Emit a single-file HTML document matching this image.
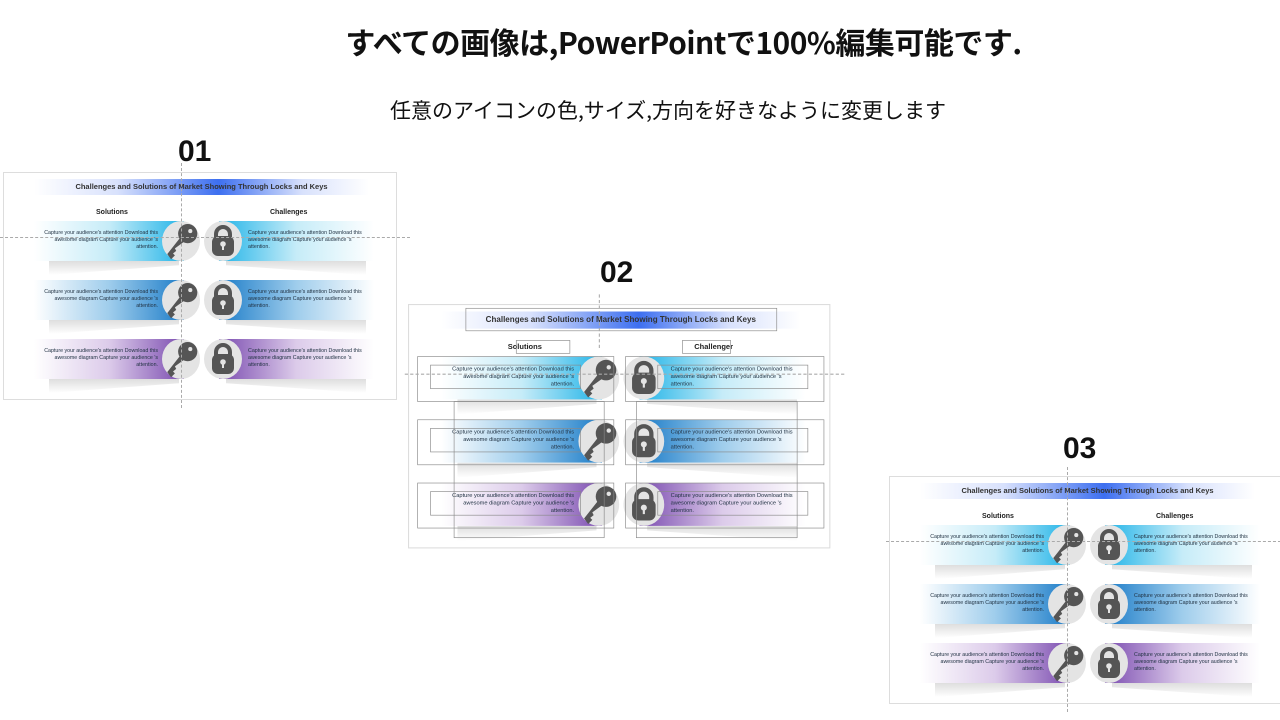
<!DOCTYPE html>
<html><head><meta charset="utf-8"><style>
body{margin:0;width:1280px;height:720px;background:#fff;position:relative;overflow:hidden;font-family:"Liberation Sans","Noto Sans CJK JP",sans-serif}
.abs{position:absolute}
.h1{left:0;width:1367px;text-align:center;top:19px;font-size:30px;font-weight:bold;color:#111;font-family:"Noto Sans CJK JP",sans-serif;letter-spacing:-0.5px}
.h2{left:0;width:1336px;text-align:center;top:95px;font-size:21px;color:#111;font-family:"Noto Sans CJK JP",sans-serif}
.num{font-size:30px;font-weight:bold;color:#111}
.slide{position:absolute;width:392px;height:226px;border:1px solid #ddd;background:#fff;transform-origin:0 0;overflow:visible}
.title{position:absolute;left:30px;width:335px;top:6px;height:16px;text-align:center;font-size:7.5px;font-weight:bold;color:#333;line-height:16px;background:linear-gradient(90deg,rgba(255,255,255,0),rgba(190,205,250,.6) 25%,#3d6ff0 55%,rgba(190,205,250,.6) 80%,rgba(255,255,255,0))}
.sub{position:absolute;top:36px;font-size:7px;font-weight:bold;color:#222}
.bl{position:absolute;left:30px;width:150px;height:40px}
.br{position:absolute;left:215px;width:155px;height:40px}
.sh{position:absolute;height:14px;background:linear-gradient(180deg,#dedede,rgba(255,255,255,0))}
.shl{clip-path:polygon(0 0,100% 0,100% 30%,0 100%)}
.shr{clip-path:polygon(0 0,100% 0,100% 100%,0 30%)}
.circ{position:absolute;width:38px;height:40px;border-radius:50%;background:#e4e4e4}
.t{position:absolute;font-size:5.3px;color:#234;line-height:7px}
.vl{position:absolute;left:177px;top:-10px;height:245px;border-left:1px dashed #aaa}
.hl{position:absolute;left:-4px;width:410px;top:64px;border-top:1px dashed #aaa}
</style></head><body>
<div class="abs h1">すべての画像は,PowerPointで100%編集可能です.</div>
<div class="abs h2">任意のアイコンの色,サイズ,方向を好きなように変更します</div>
<div class="abs num" style="left:178px;top:135px">01</div>
<div class="abs num" style="left:600px;top:256px">02</div>
<div class="abs num" style="left:1063px;top:432px">03</div>

<svg width="0" height="0" style="position:absolute"><defs>
<g id="key" transform="translate(-5,-4) scale(1.28)"><circle cx="24" cy="13" r="7.5" fill="#555"/><path d="M19 15 L8 29 L11 33 L14 30 L12.5 28.5 L15 26.5 L14 24.5 L23 18 Z" fill="#555"/><circle cx="26" cy="11" r="1.6" fill="#e4e4e4"/></g>
<g id="lock"><path d="M12 17 v-4 a7 7 0 0 1 14 0 v4" stroke="#555" stroke-width="4" fill="none"/><rect x="8" y="15" width="22" height="20" rx="6" fill="#555"/><circle cx="19" cy="23" r="2.8" fill="#e4e4e4"/><rect x="18" y="23" width="2" height="6" fill="#e4e4e4"/></g>
</defs></svg>

<div class="slide" style="left:3px;top:172px">
<div class="title">Challenges and Solutions of Market Showing Through Locks and Keys</div>
<div class="sub" style="left:92px">Solutions</div><div class="sub" style="left:266px">Challenges</div>
<div class="bl" style="top:48px;background:linear-gradient(90deg,rgba(255,255,255,0),#c6ecf8 50%,#22b4e8)"></div>
<div class="br" style="top:48px;background:linear-gradient(90deg,#22b4e8,#c6ecf8 50%,rgba(255,255,255,0))"></div>
<div class="bl" style="top:107px;background:linear-gradient(90deg,rgba(255,255,255,0),#9fcdec 50%,#1c7cc8)"></div>
<div class="br" style="top:107px;background:linear-gradient(90deg,#1c7cc8,#9fcdec 50%,rgba(255,255,255,0))"></div>
<div class="bl" style="top:166px;background:linear-gradient(90deg,rgba(255,255,255,0),#dccbea 50%,#7b4cb0)"></div>
<div class="br" style="top:166px;background:linear-gradient(90deg,#7b4cb0,#dccbea 50%,rgba(255,255,255,0))"></div>
<div class="sh shl" style="left:45px;width:130px;top:88px"></div><div class="sh shr" style="left:222px;width:140px;top:88px"></div>
<div class="sh shl" style="left:45px;width:130px;top:147px"></div><div class="sh shr" style="left:222px;width:140px;top:147px"></div>
<div class="sh shl" style="left:45px;width:130px;top:206px"></div><div class="sh shr" style="left:222px;width:140px;top:206px"></div>
<div class="t" style="left:34px;width:120px;top:57px;text-align:right">Capture your audience's attention Download this awesome diagram Capture your audience 's attention.</div>
<div class="t" style="left:244px;width:120px;top:57px">Capture your audience's attention Download this awesome diagram Capture your audience 's attention.</div>
<div class="t" style="left:34px;width:120px;top:116px;text-align:right">Capture your audience's attention Download this awesome diagram Capture your audience 's attention.</div>
<div class="t" style="left:244px;width:120px;top:116px">Capture your audience's attention Download this awesome diagram Capture your audience 's attention.</div>
<div class="t" style="left:34px;width:120px;top:175px;text-align:right">Capture your audience's attention Download this awesome diagram Capture your audience 's attention.</div>
<div class="t" style="left:244px;width:120px;top:175px">Capture your audience's attention Download this awesome diagram Capture your audience 's attention.</div>
<div class="circ" style="left:158px;top:48px"><svg width="38" height="40"><use href="#key"/></svg></div>
<div class="circ" style="left:200px;top:48px"><svg width="38" height="40"><use href="#lock"/></svg></div>
<div class="circ" style="left:158px;top:107px"><svg width="38" height="40"><use href="#key"/></svg></div>
<div class="circ" style="left:200px;top:107px"><svg width="38" height="40"><use href="#lock"/></svg></div>
<div class="circ" style="left:158px;top:166px"><svg width="38" height="40"><use href="#key"/></svg></div>
<div class="circ" style="left:200px;top:166px"><svg width="38" height="40"><use href="#lock"/></svg></div>
<div class="vl"></div><div class="hl"></div>
</div>

<div class="slide" style="left:408px;top:304px;transform:scale(1.072)">
<div class="title">Challenges and Solutions of Market Showing Through Locks and Keys</div>
<div class="sub" style="left:92px">Solutions</div><div class="sub" style="left:266px">Challenger</div>
<div class="bl" style="top:48px;background:linear-gradient(90deg,rgba(255,255,255,0),#c6ecf8 50%,#22b4e8)"></div>
<div class="br" style="top:48px;background:linear-gradient(90deg,#22b4e8,#c6ecf8 50%,rgba(255,255,255,0))"></div>
<div class="bl" style="top:107px;background:linear-gradient(90deg,rgba(255,255,255,0),#9fcdec 50%,#1c7cc8)"></div>
<div class="br" style="top:107px;background:linear-gradient(90deg,#1c7cc8,#9fcdec 50%,rgba(255,255,255,0))"></div>
<div class="bl" style="top:166px;background:linear-gradient(90deg,rgba(255,255,255,0),#dccbea 50%,#7b4cb0)"></div>
<div class="br" style="top:166px;background:linear-gradient(90deg,#7b4cb0,#dccbea 50%,rgba(255,255,255,0))"></div>
<div class="sh shl" style="left:45px;width:130px;top:88px"></div><div class="sh shr" style="left:222px;width:140px;top:88px"></div>
<div class="sh shl" style="left:45px;width:130px;top:147px"></div><div class="sh shr" style="left:222px;width:140px;top:147px"></div>
<div class="sh shl" style="left:45px;width:130px;top:206px"></div><div class="sh shr" style="left:222px;width:140px;top:206px"></div>
<div class="t" style="left:34px;width:120px;top:57px;text-align:right">Capture your audience's attention Download this awesome diagram Capture your audience 's attention.</div>
<div class="t" style="left:244px;width:120px;top:57px">Capture your audience's attention Download this awesome diagram Capture your audience 's attention.</div>
<div class="t" style="left:34px;width:120px;top:116px;text-align:right">Capture your audience's attention Download this awesome diagram Capture your audience 's attention.</div>
<div class="t" style="left:244px;width:120px;top:116px">Capture your audience's attention Download this awesome diagram Capture your audience 's attention.</div>
<div class="t" style="left:34px;width:120px;top:175px;text-align:right">Capture your audience's attention Download this awesome diagram Capture your audience 's attention.</div>
<div class="t" style="left:244px;width:120px;top:175px">Capture your audience's attention Download this awesome diagram Capture your audience 's attention.</div>
<div class="circ" style="left:158px;top:48px"><svg width="38" height="40"><use href="#key"/></svg></div>
<div class="circ" style="left:200px;top:48px"><svg width="38" height="40"><use href="#lock"/></svg></div>
<div class="circ" style="left:158px;top:107px"><svg width="38" height="40"><use href="#key"/></svg></div>
<div class="circ" style="left:200px;top:107px"><svg width="38" height="40"><use href="#lock"/></svg></div>
<div class="circ" style="left:158px;top:166px"><svg width="38" height="40"><use href="#key"/></svg></div>
<div class="circ" style="left:200px;top:166px"><svg width="38" height="40"><use href="#lock"/></svg></div>
<svg class="abs" style="left:0;top:0" width="392" height="226" fill="none" stroke="#888" stroke-width=".6">
<rect x="53" y="3" width="290" height="21"/>
<rect x="100" y="33" width="50" height="12"/><rect x="255" y="33" width="45" height="12"/>
<rect x="8" y="48" width="183" height="42"/><rect x="202" y="48" width="185" height="42"/>
<rect x="20" y="56" width="140" height="22"/><rect x="232" y="56" width="140" height="22"/>
<rect x="8" y="107" width="183" height="42"/><rect x="202" y="107" width="185" height="42"/>
<rect x="20" y="115" width="140" height="22"/><rect x="232" y="115" width="140" height="22"/>
<rect x="8" y="166" width="183" height="42"/><rect x="202" y="166" width="185" height="42"/>
<rect x="20" y="174" width="140" height="22"/><rect x="232" y="174" width="140" height="22"/>
<rect x="42" y="90" width="140" height="127"/><rect x="212" y="90" width="150" height="127"/>
</svg>
<div class="vl" style="top:-10px;height:50px"></div><div class="hl"></div>
</div>

<div class="slide" style="left:889px;top:476px">
<div class="title">Challenges and Solutions of Market Showing Through Locks and Keys</div>
<div class="sub" style="left:92px">Solutions</div><div class="sub" style="left:266px">Challenges</div>
<div class="bl" style="top:48px;background:linear-gradient(90deg,rgba(255,255,255,0),#c6ecf8 50%,#22b4e8)"></div>
<div class="br" style="top:48px;background:linear-gradient(90deg,#22b4e8,#c6ecf8 50%,rgba(255,255,255,0))"></div>
<div class="bl" style="top:107px;background:linear-gradient(90deg,rgba(255,255,255,0),#9fcdec 50%,#1c7cc8)"></div>
<div class="br" style="top:107px;background:linear-gradient(90deg,#1c7cc8,#9fcdec 50%,rgba(255,255,255,0))"></div>
<div class="bl" style="top:166px;background:linear-gradient(90deg,rgba(255,255,255,0),#dccbea 50%,#7b4cb0)"></div>
<div class="br" style="top:166px;background:linear-gradient(90deg,#7b4cb0,#dccbea 50%,rgba(255,255,255,0))"></div>
<div class="sh shl" style="left:45px;width:130px;top:88px"></div><div class="sh shr" style="left:222px;width:140px;top:88px"></div>
<div class="sh shl" style="left:45px;width:130px;top:147px"></div><div class="sh shr" style="left:222px;width:140px;top:147px"></div>
<div class="sh shl" style="left:45px;width:130px;top:206px"></div><div class="sh shr" style="left:222px;width:140px;top:206px"></div>
<div class="t" style="left:34px;width:120px;top:57px;text-align:right">Capture your audience's attention Download this awesome diagram Capture your audience 's attention.</div>
<div class="t" style="left:244px;width:120px;top:57px">Capture your audience's attention Download this awesome diagram Capture your audience 's attention.</div>
<div class="t" style="left:34px;width:120px;top:116px;text-align:right">Capture your audience's attention Download this awesome diagram Capture your audience 's attention.</div>
<div class="t" style="left:244px;width:120px;top:116px">Capture your audience's attention Download this awesome diagram Capture your audience 's attention.</div>
<div class="t" style="left:34px;width:120px;top:175px;text-align:right">Capture your audience's attention Download this awesome diagram Capture your audience 's attention.</div>
<div class="t" style="left:244px;width:120px;top:175px">Capture your audience's attention Download this awesome diagram Capture your audience 's attention.</div>
<div class="circ" style="left:158px;top:48px"><svg width="38" height="40"><use href="#key"/></svg></div>
<div class="circ" style="left:200px;top:48px"><svg width="38" height="40"><use href="#lock"/></svg></div>
<div class="circ" style="left:158px;top:107px"><svg width="38" height="40"><use href="#key"/></svg></div>
<div class="circ" style="left:200px;top:107px"><svg width="38" height="40"><use href="#lock"/></svg></div>
<div class="circ" style="left:158px;top:166px"><svg width="38" height="40"><use href="#key"/></svg></div>
<div class="circ" style="left:200px;top:166px"><svg width="38" height="40"><use href="#lock"/></svg></div>
<div class="vl"></div><div class="hl" style="width:395px"></div>
</div>
</body></html>
